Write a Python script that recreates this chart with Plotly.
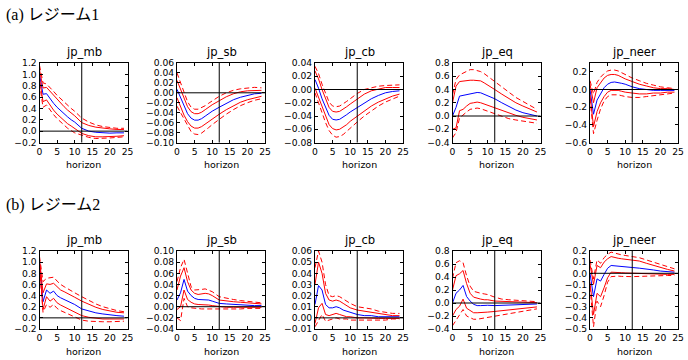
import plotly.graph_objects as go

# horizons at which values were read
H = [0, 1, 2, 3, 4, 5, 6, 7, 8, 9, 10, 12, 14, 16, 18, 20, 22, 24]
X_TICKS = [0, 5, 10, 15, 20, 25]
VARS = ["jp_mb", "jp_sb", "jp_cb", "jp_eq", "jp_neer"]
HEADINGS = ["(a) レジーム1", "(b) レジーム2"]
X_LABEL = "horizon"
VLINE_AT = 12

# ---------------- Regime 1 ----------------
r1_mb_c  = [1.00, 0.65, 0.66, 0.57, 0.49, 0.42, 0.36, 0.30, 0.25, 0.20, 0.16, 0.05, 0.00, -0.02, -0.03, -0.035, -0.03, -0.03]
r1_mb_u1 = [1.08, 0.76, 0.77, 0.70, 0.62, 0.55, 0.49, 0.43, 0.37, 0.32, 0.27, 0.15, 0.10, 0.07, 0.05, 0.04, 0.03, 0.03]
r1_mb_l1 = [0.92, 0.52, 0.55, 0.45, 0.37, 0.30, 0.24, 0.18, 0.13, 0.09, 0.05, -0.04, -0.08, -0.10, -0.10, -0.10, -0.09, -0.08]
r1_mb_u2 = [1.16, 0.85, 0.83, 0.77, 0.70, 0.63, 0.57, 0.51, 0.45, 0.40, 0.35, 0.23, 0.16, 0.11, 0.08, 0.06, 0.05, 0.05]
r1_mb_l2 = [0.84, 0.42, 0.46, 0.37, 0.29, 0.22, 0.16, 0.10, 0.05, 0.01, -0.03, -0.07, -0.11, -0.13, -0.13, -0.12, -0.11, -0.10]

r1_sb_c  = [0.007, -0.010, -0.028, -0.042, -0.051, -0.055, -0.055, -0.052, -0.047, -0.042, -0.037, -0.029, -0.021, -0.014, -0.009, -0.005, -0.002, -0.001]
r1_sb_u1 = [0.025, 0.008, -0.012, -0.028, -0.038, -0.042, -0.042, -0.039, -0.034, -0.029, -0.024, -0.016, -0.008, -0.002, 0.002, 0.004, 0.005, 0.005]
r1_sb_l1 = [-0.010, -0.028, -0.045, -0.058, -0.067, -0.071, -0.071, -0.068, -0.063, -0.058, -0.052, -0.043, -0.034, -0.026, -0.019, -0.014, -0.010, -0.007]
r1_sb_u2 = [0.040, 0.020, -0.002, -0.018, -0.029, -0.033, -0.033, -0.030, -0.026, -0.021, -0.016, -0.007, 0.000, 0.005, 0.008, 0.010, 0.011, 0.010]
r1_sb_l2 = [-0.027, -0.040, -0.055, -0.068, -0.078, -0.083, -0.084, -0.081, -0.076, -0.070, -0.064, -0.053, -0.043, -0.034, -0.026, -0.020, -0.015, -0.012]

r1_cb_c  = [0.015, 0.002, -0.014, -0.028, -0.039, -0.045, -0.046, -0.045, -0.042, -0.038, -0.034, -0.027, -0.020, -0.014, -0.009, -0.005, -0.003, -0.002]
r1_cb_u1 = [0.028, 0.016, 0.000, -0.015, -0.027, -0.033, -0.034, -0.033, -0.030, -0.026, -0.022, -0.014, -0.007, -0.002, 0.001, 0.003, 0.003, 0.003]
r1_cb_l1 = [0.002, -0.012, -0.028, -0.042, -0.053, -0.059, -0.061, -0.060, -0.057, -0.053, -0.048, -0.040, -0.032, -0.025, -0.019, -0.014, -0.010, -0.007]
r1_cb_u2 = [0.035, 0.024, 0.008, -0.007, -0.019, -0.025, -0.026, -0.025, -0.022, -0.018, -0.014, -0.006, 0.000, 0.003, 0.005, 0.006, 0.007, 0.007]
r1_cb_l2 = [-0.005, -0.020, -0.036, -0.050, -0.062, -0.069, -0.072, -0.071, -0.068, -0.063, -0.058, -0.049, -0.040, -0.032, -0.025, -0.019, -0.014, -0.010]

r1_eq_c  = [0.00, 0.13, 0.30, 0.31, 0.32, 0.34, 0.35, 0.355, 0.35, 0.33, 0.31, 0.26, 0.20, 0.14, 0.09, 0.05, 0.02, 0.00]
r1_eq_u1 = [0.20, 0.45, 0.52, 0.53, 0.54, 0.54, 0.54, 0.54, 0.53, 0.50, 0.47, 0.40, 0.33, 0.26, 0.20, 0.15, 0.10, 0.06]
r1_eq_l1 = [-0.20, -0.18, 0.08, 0.10, 0.15, 0.19, 0.20, 0.21, 0.20, 0.18, 0.16, 0.12, 0.08, 0.04, 0.01, -0.02, -0.04, -0.06]
r1_eq_u2 = [0.32, 0.55, 0.62, 0.65, 0.68, 0.70, 0.70, 0.69, 0.67, 0.64, 0.60, 0.52, 0.44, 0.36, 0.28, 0.22, 0.16, 0.10]
r1_eq_l2 = [-0.33, -0.25, -0.03, 0.02, 0.06, 0.10, 0.11, 0.12, 0.11, 0.09, 0.07, 0.03, -0.01, -0.04, -0.06, -0.08, -0.09, -0.11]

r1_neer_c  = [0.00, -0.28, -0.12, -0.05, 0.02, 0.06, 0.08, 0.085, 0.08, 0.07, 0.06, 0.03, 0.01, 0.00, -0.01, -0.01, -0.01, -0.01]
r1_neer_u1 = [0.06, -0.15, 0.02, 0.08, 0.13, 0.16, 0.17, 0.17, 0.16, 0.14, 0.12, 0.09, 0.06, 0.04, 0.02, 0.01, 0.01, 0.00]
r1_neer_l1 = [-0.06, -0.42, -0.25, -0.15, -0.08, -0.03, -0.01, -0.01, -0.01, -0.02, -0.03, -0.04, -0.05, -0.05, -0.04, -0.04, -0.03, -0.03]
r1_neer_u2 = [0.10, -0.05, 0.08, 0.14, 0.18, 0.21, 0.22, 0.22, 0.21, 0.19, 0.17, 0.13, 0.10, 0.07, 0.05, 0.03, 0.02, 0.01]
r1_neer_l2 = [-0.10, -0.50, -0.35, -0.22, -0.13, -0.08, -0.06, -0.06, -0.06, -0.07, -0.08, -0.09, -0.09, -0.08, -0.07, -0.06, -0.05, -0.04]

# ---------------- Regime 2 ----------------
r2_mb_c  = [1.00, 0.29, 0.50, 0.44, 0.48, 0.40, 0.36, 0.33, 0.30, 0.27, 0.24, 0.16, 0.12, 0.09, 0.07, 0.05, 0.04, 0.03]
r2_mb_u1 = [1.05, 0.45, 0.61, 0.60, 0.62, 0.55, 0.50, 0.47, 0.44, 0.40, 0.37, 0.30, 0.24, 0.19, 0.15, 0.12, 0.10, 0.09]
r2_mb_l1 = [0.95, 0.15, 0.38, 0.30, 0.35, 0.27, 0.23, 0.20, 0.17, 0.14, 0.11, 0.04, 0.01, -0.01, -0.02, -0.02, -0.02, -0.02]
r2_mb_u2 = [1.10, 0.65, 0.71, 0.72, 0.73, 0.66, 0.60, 0.56, 0.52, 0.48, 0.45, 0.38, 0.31, 0.25, 0.20, 0.16, 0.13, 0.11]
r2_mb_l2 = [0.90, 0.10, 0.24, 0.19, 0.24, 0.17, 0.13, 0.10, 0.07, 0.04, 0.02, -0.04, -0.06, -0.07, -0.07, -0.07, -0.06, -0.06]

r2_sb_c  = [0.012, 0.025, 0.049, 0.028, 0.020, 0.015, 0.013, 0.013, 0.013, 0.012, 0.010, 0.006, 0.005, 0.004, 0.003, 0.003, 0.002, 0.002]
r2_sb_u1 = [0.030, 0.055, 0.070, 0.045, 0.030, 0.024, 0.022, 0.023, 0.024, 0.023, 0.020, 0.012, 0.010, 0.009, 0.008, 0.007, 0.006, 0.005]
r2_sb_l1 = [-0.005, 0.000, 0.030, 0.013, 0.008, 0.005, 0.004, 0.004, 0.004, 0.003, 0.002, 0.000, -0.001, -0.001, -0.001, -0.001, -0.001, -0.001]
r2_sb_u2 = [0.045, 0.070, 0.085, 0.060, 0.036, 0.030, 0.030, 0.031, 0.032, 0.030, 0.027, 0.018, 0.015, 0.013, 0.011, 0.010, 0.008, 0.007]
r2_sb_l2 = [-0.020, -0.025, 0.015, 0.000, -0.002, -0.003, -0.004, -0.004, -0.004, -0.004, -0.005, -0.005, -0.005, -0.004, -0.004, -0.003, -0.003, -0.003]

r2_cb_c  = [0.012, 0.029, 0.025, 0.012, 0.009, 0.009, 0.010, 0.009, 0.007, 0.006, 0.005, 0.003, 0.002, 0.002, 0.001, 0.001, 0.001, 0.001]
r2_cb_u1 = [0.030, 0.050, 0.040, 0.022, 0.016, 0.015, 0.016, 0.015, 0.013, 0.011, 0.009, 0.007, 0.006, 0.005, 0.004, 0.003, 0.002, 0.002]
r2_cb_l1 = [-0.005, 0.009, 0.013, 0.003, 0.002, 0.003, 0.004, 0.003, 0.002, 0.001, 0.001, 0.000, 0.000, -0.0005, -0.0005, -0.0005, -0.0005, -0.0005]
r2_cb_u2 = [0.045, 0.060, 0.050, 0.030, 0.020, 0.019, 0.020, 0.019, 0.017, 0.015, 0.013, 0.010, 0.009, 0.008, 0.006, 0.005, 0.004, 0.004]
r2_cb_l2 = [-0.008, -0.002, 0.003, -0.003, -0.002, -0.001, 0.000, -0.001, -0.001, -0.001, -0.002, -0.002, -0.002, -0.002, -0.002, -0.002, -0.001, -0.001]

r2_eq_c  = [0.00, 0.15, 0.20, 0.27, 0.10, 0.03, -0.02, -0.04, -0.04, -0.035, -0.035, -0.04, -0.035, -0.03, -0.025, -0.02, -0.02, -0.015]
r2_eq_u1 = [0.20, 0.42, 0.45, 0.50, 0.30, 0.15, 0.09, 0.07, 0.06, 0.05, 0.05, 0.03, 0.025, 0.02, 0.015, 0.01, 0.01, 0.005]
r2_eq_l1 = [-0.20, -0.10, -0.05, 0.06, -0.08, -0.12, -0.15, -0.15, -0.15, -0.14, -0.14, -0.13, -0.12, -0.10, -0.09, -0.08, -0.07, -0.06]
r2_eq_u2 = [0.38, 0.62, 0.65, 0.62, 0.42, 0.26, 0.18, 0.16, 0.15, 0.14, 0.13, 0.09, 0.06, 0.05, 0.04, 0.03, 0.03, 0.02]
r2_eq_l2 = [-0.35, -0.26, -0.18, -0.10, -0.20, -0.23, -0.25, -0.25, -0.24, -0.23, -0.22, -0.20, -0.18, -0.16, -0.14, -0.12, -0.10, -0.09]

r2_neer_c  = [0.00, -0.21, -0.05, -0.07, -0.01, 0.045, 0.07, 0.068, 0.065, 0.06, 0.058, 0.052, 0.046, 0.04, 0.03, 0.02, 0.015, 0.01]
r2_neer_u1 = [0.08, -0.10, 0.07, 0.05, 0.10, 0.13, 0.15, 0.14, 0.135, 0.13, 0.125, 0.12, 0.11, 0.09, 0.07, 0.05, 0.035, 0.02]
r2_neer_l1 = [-0.08, -0.37, -0.18, -0.21, -0.13, -0.04, 0.01, 0.01, 0.01, 0.005, 0.003, 0.00, -0.003, -0.005, -0.007, -0.01, -0.01, -0.01]
r2_neer_u2 = [0.12, -0.05, 0.12, 0.09, 0.14, 0.17, 0.19, 0.18, 0.17, 0.165, 0.16, 0.15, 0.14, 0.12, 0.10, 0.08, 0.06, 0.04]
r2_neer_l2 = [-0.12, -0.48, -0.25, -0.30, -0.20, -0.08, -0.03, -0.025, -0.025, -0.028, -0.03, -0.03, -0.028, -0.025, -0.022, -0.02, -0.02, -0.02]

# y tick values per panel (row 1 then row 2)
r1_mb_yt = [-0.2, 0.0, 0.2, 0.4, 0.6, 0.8, 1.0, 1.2]
r1_sb_yt = [-0.10, -0.08, -0.06, -0.04, -0.02, 0.00, 0.02, 0.04, 0.06]
r1_cb_yt = [-0.08, -0.06, -0.04, -0.02, 0.00, 0.02, 0.04]
r1_eq_yt = [-0.4, -0.2, 0.0, 0.2, 0.4, 0.6, 0.8]
r1_neer_yt = [-0.6, -0.4, -0.2, 0.0, 0.2]
r2_mb_yt = [-0.2, 0.0, 0.2, 0.4, 0.6, 0.8, 1.0, 1.2]
r2_sb_yt = [-0.04, -0.02, 0.00, 0.02, 0.04, 0.06, 0.08, 0.10]
r2_cb_yt = [-0.01, 0.00, 0.01, 0.02, 0.03, 0.04, 0.05, 0.06]
r2_eq_yt = [-0.4, -0.2, 0.0, 0.2, 0.4, 0.6, 0.8]
r2_neer_yt = [-0.5, -0.4, -0.3, -0.2, -0.1, 0.0, 0.1, 0.2]

panels = [
    (r1_mb_c, r1_mb_u1, r1_mb_l1, r1_mb_u2, r1_mb_l2, r1_mb_yt, (-0.2, 1.2), ".1f"),
    (r1_sb_c, r1_sb_u1, r1_sb_l1, r1_sb_u2, r1_sb_l2, r1_sb_yt, (-0.10, 0.06), ".2f"),
    (r1_cb_c, r1_cb_u1, r1_cb_l1, r1_cb_u2, r1_cb_l2, r1_cb_yt, (-0.08, 0.04), ".2f"),
    (r1_eq_c, r1_eq_u1, r1_eq_l1, r1_eq_u2, r1_eq_l2, r1_eq_yt, (-0.4, 0.8), ".1f"),
    (r1_neer_c, r1_neer_u1, r1_neer_l1, r1_neer_u2, r1_neer_l2, r1_neer_yt, (-0.6, 0.3), ".1f"),
    (r2_mb_c, r2_mb_u1, r2_mb_l1, r2_mb_u2, r2_mb_l2, r2_mb_yt, (-0.2, 1.2), ".1f"),
    (r2_sb_c, r2_sb_u1, r2_sb_l1, r2_sb_u2, r2_sb_l2, r2_sb_yt, (-0.04, 0.10), ".2f"),
    (r2_cb_c, r2_cb_u1, r2_cb_l1, r2_cb_u2, r2_cb_l2, r2_cb_yt, (-0.01, 0.06), ".2f"),
    (r2_eq_c, r2_eq_u1, r2_eq_l1, r2_eq_u2, r2_eq_l2, r2_eq_yt, (-0.4, 0.8), ".1f"),
    (r2_neer_c, r2_neer_u1, r2_neer_l1, r2_neer_u2, r2_neer_l2, r2_neer_yt, (-0.5, 0.2), ".1f"),
]

W, Hpx = 688, 360
LEFTS = [39.5, 177, 315, 452.5, 590]
PW = 88
ROWS_Y = [(63, 142.5), (251, 329)]
HEAD_Y = [15, 205]

FONT = "DejaVu Sans"
BLUE = "#0000ff"
RED = "#ff0000"

fig = go.Figure()
layout = {}
shapes = []
annotations = []

for i, (c, u1, l1, u2, l2, yt, yr, fmt) in enumerate(panels):
    row, col = divmod(i, 5)
    n = i + 1
    xn = "x" if n == 1 else f"x{n}"
    yn = "y" if n == 1 else f"y{n}"
    x0, x1 = LEFTS[col], LEFTS[col] + PW
    ytop, ybot = ROWS_Y[row]
    for ys, color, dash in [(c, BLUE, "solid"), (u1, RED, "solid"), (l1, RED, "solid"),
                            (u2, RED, "5px,3px"), (l2, RED, "5px,3px")]:
        fig.add_trace(go.Scatter(x=H, y=ys, mode="lines", xaxis=xn, yaxis=yn,
                                 line=dict(color=color, width=1, dash=dash),
                                 showlegend=False, hoverinfo="skip"))
    axcommon = dict(showgrid=False, zeroline=False, showline=True, linecolor="black",
                    linewidth=1, mirror="ticks", ticks="inside", ticklen=3, tickwidth=1,
                    tickcolor="black", automargin=False,
                    tickfont=dict(family=FONT, size=9.2, color="black"))
    layout["xaxis" if n == 1 else f"xaxis{n}"] = dict(
        axcommon, domain=[x0 / W, x1 / W], anchor=yn, range=[0, 25],
        tickvals=X_TICKS, ticktext=[str(v) for v in X_TICKS])
    layout["yaxis" if n == 1 else f"yaxis{n}"] = dict(
        axcommon, domain=[1 - ybot / Hpx, 1 - ytop / Hpx], anchor=xn,
        range=list(yr), tickvals=yt, tickformat=fmt)
    shapes.append(dict(type="line", xref=xn, yref=f"{yn} domain", x0=VLINE_AT, x1=VLINE_AT,
                       y0=0, y1=1, line=dict(color="black", width=1), layer="above"))
    shapes.append(dict(type="line", xref=f"{xn} domain", yref=yn, x0=0, x1=1,
                       y0=0, y1=0, line=dict(color="black", width=1), layer="above"))
    annotations.append(dict(text=VARS[col], xref="paper", yref="paper",
                            x=(x0 + x1) / 2 / W, y=1 - (ytop - 11) / Hpx,
                            xanchor="center", yanchor="middle", showarrow=False,
                            font=dict(family=FONT, size=11.6, color="black")))
    annotations.append(dict(text=X_LABEL, xref="paper", yref="paper",
                            x=(x0 + x1) / 2 / W, y=1 - (ybot + 22) / Hpx,
                            xanchor="center", yanchor="middle", showarrow=False,
                            font=dict(family=FONT, size=9.5, color="black")))

for r, txt in enumerate(HEADINGS):
    annotations.append(dict(text=txt, xref="paper", yref="paper", x=4 / W,
                            y=1 - HEAD_Y[r] / Hpx, xanchor="left", yanchor="middle",
                            showarrow=False,
                            font=dict(family="Liberation Serif, Noto Sans CJK JP", size=16,
                                      color="black")))

fig.update_layout(**layout)
fig.update_layout(width=W, height=Hpx, margin=dict(l=0, r=0, t=0, b=0),
                  paper_bgcolor="white", plot_bgcolor="white", template="none",
                  shapes=shapes, annotations=annotations, showlegend=False)
fig.write_html("out.html", config={"displayModeBar": False},
               post_script="document.body.style.margin='0';document.body.style.overflow='hidden';")
